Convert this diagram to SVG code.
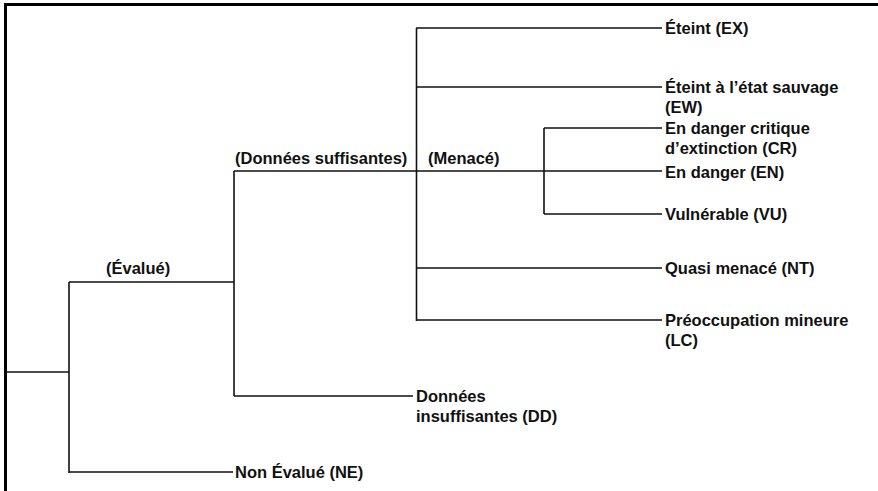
<svg xmlns="http://www.w3.org/2000/svg" width="878" height="491" viewBox="0 0 878 491">
<style>
.frame{stroke:#000;stroke-width:3;fill:none}
.c{stroke:#111;stroke-width:1.6;fill:none}
text{font-family:"Liberation Sans",Arial,Helvetica,sans-serif;font-size:16.5px;font-weight:bold;fill:#111}
</style>
<rect width="878" height="491" fill="#fff"/>
<path class="frame" d="M5.5,491 V4.5 H878"/>
<g id="connectors">
<path class="c" d="M5,372 H69 M69,282 V473 M69,282 H234 M69,472 H233"/>
<path class="c" d="M234,171 V396 M234,171 H662 M234,396 H413"/>
<path class="c" d="M416.5,28 V321 M416,28 H662 M416,87 H662 M416,268 H662 M416,320 H662"/>
<path class="c" d="M544,128 V214 M544,128 H662 M544,214 H662"/>
</g>
<g id="n-evalue"><text x="106" y="274">(Évalué)</text></g>
<g id="n-suffisantes"><text x="235" y="164">(Données suffisantes)</text></g>
<g id="n-menace"><text x="428" y="164">(Menacé)</text></g>
<g id="n-ex"><text x="665" y="34">Éteint (EX)</text></g>
<g id="n-ew"><text x="665" y="93">Éteint à l’état sauvage</text><text x="665" y="113">(EW)</text></g>
<g id="n-cr"><text x="665" y="134">En danger critique</text><text x="665" y="154">d’extinction (CR)</text></g>
<g id="n-en"><text x="665" y="178">En danger (EN)</text></g>
<g id="n-vu"><text x="665" y="220">Vulnérable (VU)</text></g>
<g id="n-nt"><text x="665" y="274">Quasi menacé (NT)</text></g>
<g id="n-lc"><text x="665" y="326">Préoccupation mineure</text><text x="665" y="346">(LC)</text></g>
<g id="n-dd"><text x="416" y="402">Données</text><text x="416" y="422">insuffisantes (DD)</text></g>
<g id="n-ne"><text x="235" y="478">Non Évalué (NE)</text></g>
</svg>
